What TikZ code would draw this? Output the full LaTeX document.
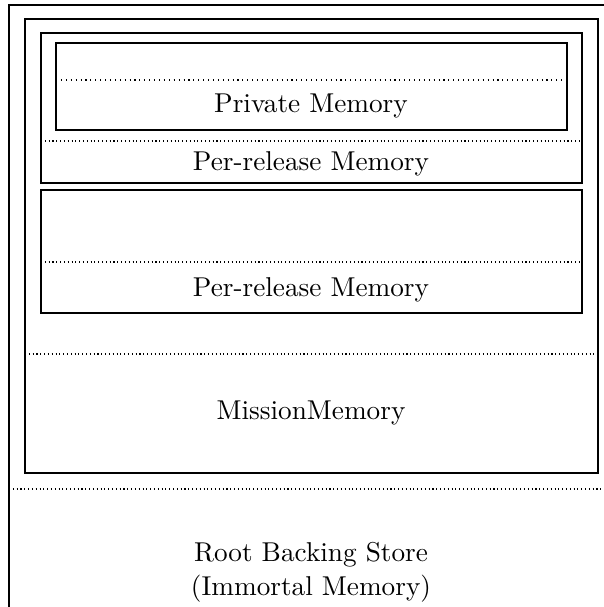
\documentclass[tikz,border=0pt]{standalone}
\begin{document}
\begin{tikzpicture}[x=0.367pt, y=-0.367pt,
  region/.style={draw, line width=0.4pt},
  divider/.style={line width=0.4pt, densely dotted},
  fineline/.style={line width=0.4pt, dash pattern=on 0.4pt off 1.4pt},
  caption/.style={inner sep=0pt, align=center, font=\normalsize}]
  \useasboundingbox (0,0) rectangle (604,607);

  % immortal memory (outer area, runs past the page edge)
  \draw[region] (640,5) -- (9,5) -- (9,640);
  \draw[divider] (9,489) -- (640,489);
  \node[caption] (root) at (311,572)
    {Root Backing Store\\[0.6pt](Immortal Memory)};

  % mission memory
  \draw[region] (25,19) rectangle (598,473);
  \draw[divider] (25,354) -- (598,354);
  \node[caption] (mission) at (311,413) {MissionMemory};

  % first per-release memory with its private memory
  \draw[region] (41,33) rectangle (582,183);
  \draw[divider] (41,141) -- (582,141);
  \node[caption] (pr1) at (311,164) {Per-release Memory};

  \draw[region] (56,43) rectangle (567,130);
  \draw[fineline] (56,80) -- (567,80);
  \node[caption] (priv) at (311,106) {Private Memory};

  % second per-release memory
  \draw[region] (41,190) rectangle (582,313);
  \draw[divider] (41,262) -- (582,262);
  \node[caption] (pr2) at (311,290) {Per-release Memory};
\end{tikzpicture}
\end{document}
